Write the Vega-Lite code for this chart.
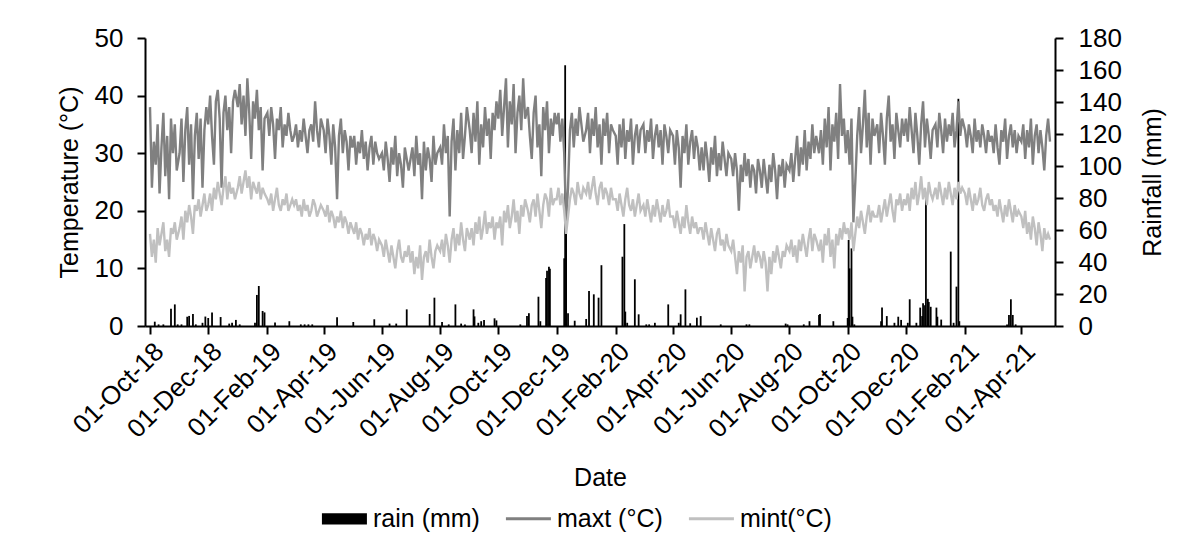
{
"$schema":"https://vega.github.io/schema/vega-lite/v6.json",
"width":910,"height":288,
"autosize":{"type":"none"},
"padding":{"left":145,"top":38,"right":129,"bottom":230},
"background":"white",
"config":{"view":{"stroke":null},"font":"Liberation Sans",
 "axis":{"labelFont":"Liberation Sans","titleFont":"Liberation Sans","labelColor":"#000","titleColor":"#000","labelFontSize":26,"titleFontSize":25,"titleFontWeight":"normal","domainColor":"#000","tickColor":"#000","domainWidth":2,"tickWidth":2,"tickSize":8,"grid":false},
 "legend":{"labelFont":"Liberation Sans","labelFontSize":25,"labelColor":"#000"}},
"datasets":{
"t":[
{"d":"2018-10-01","x":38,"n":16},{"d":"2018-10-03","x":24,"n":12},{"d":"2018-10-05","x":32,"n":15},{"d":"2018-10-07","x":28,"n":11},{"d":"2018-10-09","x":35,"n":17},{"d":"2018-10-11","x":23,"n":14},{"d":"2018-10-13","x":31,"n":16},{"d":"2018-10-15","x":37,"n":18},{"d":"2018-10-17","x":26,"n":13},{"d":"2018-10-19","x":33,"n":15},{"d":"2018-10-21","x":22,"n":12},{"d":"2018-10-23","x":36,"n":17},{"d":"2018-10-25","x":30,"n":16},{"d":"2018-10-27","x":35,"n":18},{"d":"2018-10-29","x":27,"n":15},
{"d":"2018-11-01","x":30,"n":17},{"d":"2018-11-03","x":36,"n":19},{"d":"2018-11-05","x":25,"n":15},{"d":"2018-11-07","x":34,"n":20},{"d":"2018-11-09","x":38,"n":18},{"d":"2018-11-11","x":28,"n":21},{"d":"2018-11-13","x":35,"n":19},{"d":"2018-11-15","x":22,"n":16},{"d":"2018-11-17","x":33,"n":21},{"d":"2018-11-19","x":37,"n":20},{"d":"2018-11-21","x":29,"n":22},{"d":"2018-11-23","x":36,"n":19},{"d":"2018-11-25","x":24,"n":21},{"d":"2018-11-27","x":34,"n":23},{"d":"2018-11-29","x":38,"n":20},
{"d":"2018-12-01","x":35,"n":21},{"d":"2018-12-03","x":40,"n":23},{"d":"2018-12-05","x":33,"n":20},{"d":"2018-12-07","x":28,"n":24},{"d":"2018-12-09","x":39,"n":22},{"d":"2018-12-11","x":41,"n":25},{"d":"2018-12-13","x":36,"n":23},{"d":"2018-12-15","x":24,"n":21},{"d":"2018-12-17","x":37,"n":24},{"d":"2018-12-19","x":40,"n":26},{"d":"2018-12-21","x":34,"n":22},{"d":"2018-12-23","x":38,"n":25},{"d":"2018-12-25","x":30,"n":23},{"d":"2018-12-27","x":39,"n":24},{"d":"2018-12-29","x":41,"n":22},
{"d":"2019-01-01","x":38,"n":24},{"d":"2019-01-03","x":42,"n":26},{"d":"2019-01-05","x":35,"n":23},{"d":"2019-01-07","x":40,"n":25},{"d":"2019-01-09","x":33,"n":27},{"d":"2019-01-11","x":43,"n":24},{"d":"2019-01-13","x":37,"n":26},{"d":"2019-01-15","x":29,"n":22},{"d":"2019-01-17","x":39,"n":25},{"d":"2019-01-19","x":36,"n":24},{"d":"2019-01-21","x":41,"n":23},{"d":"2019-01-23","x":34,"n":25},{"d":"2019-01-25","x":38,"n":22},{"d":"2019-01-27","x":27,"n":24},{"d":"2019-01-29","x":36,"n":23},
{"d":"2019-02-01","x":37,"n":22},{"d":"2019-02-03","x":33,"n":21},{"d":"2019-02-05","x":38,"n":23},{"d":"2019-02-07","x":35,"n":20},{"d":"2019-02-09","x":29,"n":22},{"d":"2019-02-11","x":36,"n":24},{"d":"2019-02-13","x":34,"n":21},{"d":"2019-02-15","x":38,"n":20},{"d":"2019-02-17","x":31,"n":22},{"d":"2019-02-19","x":35,"n":21},{"d":"2019-02-21","x":33,"n":23},{"d":"2019-02-23","x":37,"n":20},{"d":"2019-02-25","x":34,"n":21},{"d":"2019-02-27","x":32,"n":22},
{"d":"2019-03-01","x":33,"n":21},{"d":"2019-03-03","x":35,"n":22},{"d":"2019-03-05","x":31,"n":20},{"d":"2019-03-07","x":34,"n":21},{"d":"2019-03-09","x":32,"n":19},{"d":"2019-03-11","x":36,"n":22},{"d":"2019-03-13","x":33,"n":20},{"d":"2019-03-15","x":30,"n":21},{"d":"2019-03-17","x":34,"n":19},{"d":"2019-03-19","x":35,"n":20},{"d":"2019-03-21","x":32,"n":22},{"d":"2019-03-23","x":39,"n":21},{"d":"2019-03-25","x":34,"n":19},{"d":"2019-03-27","x":31,"n":20},{"d":"2019-03-29","x":36,"n":21},
{"d":"2019-04-01","x":34,"n":20},{"d":"2019-04-03","x":30,"n":19},{"d":"2019-04-05","x":36,"n":21},{"d":"2019-04-07","x":33,"n":18},{"d":"2019-04-09","x":28,"n":20},{"d":"2019-04-11","x":35,"n":19},{"d":"2019-04-13","x":31,"n":17},{"d":"2019-04-15","x":22,"n":19},{"d":"2019-04-17","x":33,"n":18},{"d":"2019-04-19","x":36,"n":20},{"d":"2019-04-21","x":30,"n":17},{"d":"2019-04-23","x":34,"n":19},{"d":"2019-04-25","x":32,"n":18},{"d":"2019-04-27","x":27,"n":16},{"d":"2019-04-29","x":33,"n":18},
{"d":"2019-05-01","x":31,"n":17},{"d":"2019-05-03","x":33,"n":16},{"d":"2019-05-05","x":28,"n":18},{"d":"2019-05-07","x":32,"n":15},{"d":"2019-05-09","x":30,"n":17},{"d":"2019-05-11","x":34,"n":16},{"d":"2019-05-13","x":29,"n":14},{"d":"2019-05-15","x":32,"n":16},{"d":"2019-05-17","x":27,"n":15},{"d":"2019-05-19","x":31,"n":17},{"d":"2019-05-21","x":33,"n":14},{"d":"2019-05-23","x":28,"n":16},{"d":"2019-05-25","x":32,"n":15},{"d":"2019-05-27","x":30,"n":13},{"d":"2019-05-29","x":29,"n":15},
{"d":"2019-06-01","x":30,"n":14},{"d":"2019-06-03","x":27,"n":12},{"d":"2019-06-05","x":32,"n":15},{"d":"2019-06-07","x":29,"n":13},{"d":"2019-06-09","x":25,"n":11},{"d":"2019-06-11","x":31,"n":14},{"d":"2019-06-13","x":28,"n":12},{"d":"2019-06-15","x":33,"n":10},{"d":"2019-06-17","x":26,"n":13},{"d":"2019-06-19","x":30,"n":15},{"d":"2019-06-21","x":28,"n":12},{"d":"2019-06-23","x":24,"n":11},{"d":"2019-06-25","x":31,"n":13},{"d":"2019-06-27","x":29,"n":12},{"d":"2019-06-29","x":27,"n":14},
{"d":"2019-07-01","x":29,"n":11},{"d":"2019-07-03","x":31,"n":13},{"d":"2019-07-05","x":26,"n":9},{"d":"2019-07-07","x":33,"n":12},{"d":"2019-07-09","x":28,"n":10},{"d":"2019-07-11","x":30,"n":14},{"d":"2019-07-13","x":22,"n":8},{"d":"2019-07-15","x":32,"n":12},{"d":"2019-07-17","x":27,"n":13},{"d":"2019-07-19","x":31,"n":11},{"d":"2019-07-21","x":29,"n":15},{"d":"2019-07-23","x":25,"n":12},{"d":"2019-07-25","x":33,"n":10},{"d":"2019-07-27","x":28,"n":13},{"d":"2019-07-29","x":30,"n":14},
{"d":"2019-08-01","x":31,"n":13},{"d":"2019-08-03","x":28,"n":15},{"d":"2019-08-05","x":35,"n":12},{"d":"2019-08-07","x":30,"n":16},{"d":"2019-08-09","x":33,"n":14},{"d":"2019-08-11","x":19,"n":11},{"d":"2019-08-13","x":32,"n":15},{"d":"2019-08-15","x":36,"n":17},{"d":"2019-08-17","x":27,"n":13},{"d":"2019-08-19","x":34,"n":16},{"d":"2019-08-21","x":30,"n":14},{"d":"2019-08-23","x":37,"n":18},{"d":"2019-08-25","x":29,"n":15},{"d":"2019-08-27","x":33,"n":13},{"d":"2019-08-29","x":38,"n":17},
{"d":"2019-09-01","x":34,"n":15},{"d":"2019-09-03","x":30,"n":17},{"d":"2019-09-05","x":37,"n":14},{"d":"2019-09-07","x":32,"n":18},{"d":"2019-09-09","x":39,"n":16},{"d":"2019-09-11","x":28,"n":19},{"d":"2019-09-13","x":35,"n":15},{"d":"2019-09-15","x":31,"n":17},{"d":"2019-09-17","x":38,"n":20},{"d":"2019-09-19","x":33,"n":16},{"d":"2019-09-21","x":36,"n":18},{"d":"2019-09-23","x":29,"n":17},{"d":"2019-09-25","x":37,"n":19},{"d":"2019-09-27","x":34,"n":15},{"d":"2019-09-29","x":39,"n":18},
{"d":"2019-10-01","x":36,"n":17},{"d":"2019-10-03","x":41,"n":19},{"d":"2019-10-05","x":33,"n":14},{"d":"2019-10-07","x":38,"n":20},{"d":"2019-10-09","x":43,"n":18},{"d":"2019-10-11","x":31,"n":21},{"d":"2019-10-13","x":39,"n":17},{"d":"2019-10-15","x":35,"n":19},{"d":"2019-10-17","x":42,"n":22},{"d":"2019-10-19","x":30,"n":18},{"d":"2019-10-21","x":37,"n":20},{"d":"2019-10-23","x":40,"n":16},{"d":"2019-10-25","x":34,"n":21},{"d":"2019-10-27","x":43,"n":19},{"d":"2019-10-29","x":36,"n":22},
{"d":"2019-11-01","x":38,"n":20},{"d":"2019-11-03","x":33,"n":18},{"d":"2019-11-05","x":29,"n":21},{"d":"2019-11-07","x":37,"n":22},{"d":"2019-11-09","x":40,"n":19},{"d":"2019-11-11","x":31,"n":23},{"d":"2019-11-13","x":35,"n":20},{"d":"2019-11-15","x":26,"n":17},{"d":"2019-11-17","x":38,"n":21},{"d":"2019-11-19","x":34,"n":23},{"d":"2019-11-21","x":39,"n":22},{"d":"2019-11-23","x":30,"n":19},{"d":"2019-11-25","x":36,"n":24},{"d":"2019-11-27","x":33,"n":21},{"d":"2019-11-29","x":37,"n":22},
{"d":"2019-12-01","x":35,"n":22},{"d":"2019-12-03","x":37,"n":24},{"d":"2019-12-05","x":32,"n":21},{"d":"2019-12-07","x":36,"n":23},{"d":"2019-12-09","x":30,"n":20},{"d":"2019-12-11","x":18,"n":16},{"d":"2019-12-13","x":24,"n":19},{"d":"2019-12-15","x":34,"n":22},{"d":"2019-12-17","x":37,"n":24},{"d":"2019-12-19","x":31,"n":23},{"d":"2019-12-21","x":36,"n":21},{"d":"2019-12-23","x":33,"n":25},{"d":"2019-12-25","x":38,"n":23},{"d":"2019-12-27","x":35,"n":22},{"d":"2019-12-29","x":32,"n":24},
{"d":"2020-01-01","x":34,"n":23},{"d":"2020-01-03","x":37,"n":25},{"d":"2020-01-05","x":30,"n":22},{"d":"2020-01-07","x":36,"n":24},{"d":"2020-01-09","x":33,"n":26},{"d":"2020-01-11","x":38,"n":23},{"d":"2020-01-13","x":31,"n":21},{"d":"2020-01-15","x":35,"n":24},{"d":"2020-01-17","x":28,"n":25},{"d":"2020-01-19","x":36,"n":22},{"d":"2020-01-21","x":33,"n":24},{"d":"2020-01-23","x":37,"n":23},{"d":"2020-01-25","x":30,"n":21},{"d":"2020-01-27","x":35,"n":24},{"d":"2020-01-29","x":34,"n":22},
{"d":"2020-02-01","x":33,"n":22},{"d":"2020-02-03","x":28,"n":20},{"d":"2020-02-05","x":35,"n":23},{"d":"2020-02-07","x":31,"n":21},{"d":"2020-02-09","x":36,"n":19},{"d":"2020-02-11","x":29,"n":22},{"d":"2020-02-13","x":34,"n":24},{"d":"2020-02-15","x":32,"n":21},{"d":"2020-02-17","x":36,"n":20},{"d":"2020-02-19","x":28,"n":22},{"d":"2020-02-21","x":33,"n":19},{"d":"2020-02-23","x":35,"n":21},{"d":"2020-02-25","x":30,"n":23},{"d":"2020-02-27","x":34,"n":20},
{"d":"2020-03-01","x":35,"n":21},{"d":"2020-03-03","x":30,"n":19},{"d":"2020-03-05","x":34,"n":22},{"d":"2020-03-07","x":32,"n":20},{"d":"2020-03-09","x":36,"n":18},{"d":"2020-03-11","x":29,"n":21},{"d":"2020-03-13","x":33,"n":19},{"d":"2020-03-15","x":35,"n":22},{"d":"2020-03-17","x":31,"n":20},{"d":"2020-03-19","x":34,"n":18},{"d":"2020-03-21","x":28,"n":21},{"d":"2020-03-23","x":35,"n":19},{"d":"2020-03-25","x":33,"n":20},{"d":"2020-03-27","x":30,"n":22},{"d":"2020-03-29","x":34,"n":19},
{"d":"2020-04-01","x":33,"n":19},{"d":"2020-04-03","x":28,"n":17},{"d":"2020-04-05","x":34,"n":20},{"d":"2020-04-07","x":31,"n":18},{"d":"2020-04-09","x":24,"n":16},{"d":"2020-04-11","x":33,"n":19},{"d":"2020-04-13","x":30,"n":17},{"d":"2020-04-15","x":35,"n":21},{"d":"2020-04-17","x":28,"n":18},{"d":"2020-04-19","x":32,"n":16},{"d":"2020-04-21","x":34,"n":19},{"d":"2020-04-23","x":29,"n":17},{"d":"2020-04-25","x":33,"n":18},{"d":"2020-04-27","x":31,"n":16},{"d":"2020-04-29","x":27,"n":17},
{"d":"2020-05-01","x":31,"n":17},{"d":"2020-05-03","x":27,"n":15},{"d":"2020-05-05","x":32,"n":18},{"d":"2020-05-07","x":29,"n":16},{"d":"2020-05-09","x":25,"n":14},{"d":"2020-05-11","x":31,"n":17},{"d":"2020-05-13","x":28,"n":15},{"d":"2020-05-15","x":33,"n":13},{"d":"2020-05-17","x":26,"n":16},{"d":"2020-05-19","x":30,"n":17},{"d":"2020-05-21","x":27,"n":14},{"d":"2020-05-23","x":32,"n":15},{"d":"2020-05-25","x":29,"n":13},{"d":"2020-05-27","x":26,"n":16},{"d":"2020-05-29","x":30,"n":14},
{"d":"2020-06-01","x":29,"n":13},{"d":"2020-06-03","x":26,"n":15},{"d":"2020-06-05","x":30,"n":12},{"d":"2020-06-07","x":27,"n":9},{"d":"2020-06-09","x":20,"n":13},{"d":"2020-06-11","x":28,"n":11},{"d":"2020-06-13","x":25,"n":14},{"d":"2020-06-15","x":30,"n":6},{"d":"2020-06-17","x":26,"n":12},{"d":"2020-06-19","x":29,"n":13},{"d":"2020-06-21","x":24,"n":10},{"d":"2020-06-23","x":28,"n":12},{"d":"2020-06-25","x":27,"n":14},{"d":"2020-06-27","x":23,"n":11},{"d":"2020-06-29","x":29,"n":13},
{"d":"2020-07-01","x":27,"n":12},{"d":"2020-07-03","x":24,"n":10},{"d":"2020-07-05","x":29,"n":13},{"d":"2020-07-07","x":26,"n":11},{"d":"2020-07-09","x":23,"n":6},{"d":"2020-07-11","x":28,"n":12},{"d":"2020-07-13","x":25,"n":9},{"d":"2020-07-15","x":30,"n":13},{"d":"2020-07-17","x":27,"n":11},{"d":"2020-07-19","x":22,"n":14},{"d":"2020-07-21","x":28,"n":12},{"d":"2020-07-23","x":26,"n":10},{"d":"2020-07-25","x":29,"n":13},{"d":"2020-07-27","x":24,"n":12},{"d":"2020-07-29","x":28,"n":14},
{"d":"2020-08-01","x":27,"n":13},{"d":"2020-08-03","x":30,"n":15},{"d":"2020-08-05","x":25,"n":12},{"d":"2020-08-07","x":29,"n":14},{"d":"2020-08-09","x":33,"n":11},{"d":"2020-08-11","x":26,"n":15},{"d":"2020-08-13","x":31,"n":13},{"d":"2020-08-15","x":28,"n":16},{"d":"2020-08-17","x":34,"n":14},{"d":"2020-08-19","x":27,"n":12},{"d":"2020-08-21","x":32,"n":15},{"d":"2020-08-23","x":29,"n":17},{"d":"2020-08-25","x":35,"n":13},{"d":"2020-08-27","x":30,"n":16},{"d":"2020-08-29","x":33,"n":15},
{"d":"2020-09-01","x":30,"n":13},{"d":"2020-09-03","x":34,"n":15},{"d":"2020-09-05","x":28,"n":11},{"d":"2020-09-07","x":36,"n":16},{"d":"2020-09-09","x":31,"n":14},{"d":"2020-09-11","x":38,"n":17},{"d":"2020-09-13","x":27,"n":12},{"d":"2020-09-15","x":35,"n":15},{"d":"2020-09-17","x":32,"n":10},{"d":"2020-09-19","x":37,"n":16},{"d":"2020-09-21","x":29,"n":14},{"d":"2020-09-23","x":42,"n":17},{"d":"2020-09-25","x":33,"n":15},{"d":"2020-09-27","x":36,"n":18},{"d":"2020-09-29","x":30,"n":16},
{"d":"2020-10-01","x":34,"n":17},{"d":"2020-10-03","x":28,"n":15},{"d":"2020-10-05","x":36,"n":18},{"d":"2020-10-07","x":18,"n":13},{"d":"2020-10-09","x":25,"n":16},{"d":"2020-10-11","x":33,"n":19},{"d":"2020-10-13","x":38,"n":17},{"d":"2020-10-15","x":30,"n":20},{"d":"2020-10-17","x":35,"n":18},{"d":"2020-10-19","x":41,"n":16},{"d":"2020-10-21","x":31,"n":19},{"d":"2020-10-23","x":37,"n":21},{"d":"2020-10-25","x":28,"n":18},{"d":"2020-10-27","x":36,"n":20},{"d":"2020-10-29","x":33,"n":19},
{"d":"2020-11-01","x":35,"n":19},{"d":"2020-11-03","x":30,"n":21},{"d":"2020-11-05","x":37,"n":18},{"d":"2020-11-07","x":33,"n":20},{"d":"2020-11-09","x":28,"n":22},{"d":"2020-11-11","x":36,"n":19},{"d":"2020-11-13","x":40,"n":21},{"d":"2020-11-15","x":32,"n":23},{"d":"2020-11-17","x":35,"n":20},{"d":"2020-11-19","x":29,"n":18},{"d":"2020-11-21","x":37,"n":22},{"d":"2020-11-23","x":34,"n":21},{"d":"2020-11-25","x":31,"n":23},{"d":"2020-11-27","x":36,"n":20},{"d":"2020-11-29","x":33,"n":22},
{"d":"2020-12-01","x":36,"n":21},{"d":"2020-12-03","x":32,"n":23},{"d":"2020-12-05","x":38,"n":20},{"d":"2020-12-07","x":34,"n":24},{"d":"2020-12-09","x":30,"n":22},{"d":"2020-12-11","x":37,"n":25},{"d":"2020-12-13","x":33,"n":21},{"d":"2020-12-15","x":28,"n":23},{"d":"2020-12-17","x":35,"n":26},{"d":"2020-12-19","x":39,"n":22},{"d":"2020-12-21","x":31,"n":24},{"d":"2020-12-23","x":36,"n":21},{"d":"2020-12-25","x":33,"n":25},{"d":"2020-12-27","x":29,"n":23},{"d":"2020-12-29","x":34,"n":22},
{"d":"2021-01-01","x":35,"n":24},{"d":"2021-01-03","x":31,"n":22},{"d":"2021-01-05","x":37,"n":25},{"d":"2021-01-07","x":34,"n":23},{"d":"2021-01-09","x":30,"n":21},{"d":"2021-01-11","x":36,"n":24},{"d":"2021-01-13","x":32,"n":22},{"d":"2021-01-15","x":35,"n":25},{"d":"2021-01-17","x":33,"n":23},{"d":"2021-01-19","x":37,"n":21},{"d":"2021-01-21","x":31,"n":24},{"d":"2021-01-23","x":34,"n":22},{"d":"2021-01-25","x":39,"n":25},{"d":"2021-01-27","x":33,"n":23},{"d":"2021-01-29","x":36,"n":24},
{"d":"2021-02-01","x":34,"n":23},{"d":"2021-02-03","x":31,"n":21},{"d":"2021-02-05","x":35,"n":24},{"d":"2021-02-07","x":33,"n":22},{"d":"2021-02-09","x":30,"n":20},{"d":"2021-02-11","x":36,"n":23},{"d":"2021-02-13","x":32,"n":21},{"d":"2021-02-15","x":34,"n":22},{"d":"2021-02-17","x":31,"n":24},{"d":"2021-02-19","x":35,"n":21},{"d":"2021-02-21","x":33,"n":20},{"d":"2021-02-23","x":30,"n":22},{"d":"2021-02-25","x":34,"n":23},{"d":"2021-02-27","x":32,"n":21},
{"d":"2021-03-01","x":33,"n":22},{"d":"2021-03-03","x":30,"n":20},{"d":"2021-03-05","x":35,"n":21},{"d":"2021-03-07","x":31,"n":19},{"d":"2021-03-09","x":28,"n":22},{"d":"2021-03-11","x":34,"n":20},{"d":"2021-03-13","x":32,"n":18},{"d":"2021-03-15","x":36,"n":21},{"d":"2021-03-17","x":29,"n":19},{"d":"2021-03-19","x":33,"n":22},{"d":"2021-03-21","x":35,"n":20},{"d":"2021-03-23","x":31,"n":18},{"d":"2021-03-25","x":34,"n":21},{"d":"2021-03-27","x":30,"n":19},{"d":"2021-03-29","x":33,"n":20},
{"d":"2021-04-01","x":32,"n":19},{"d":"2021-04-03","x":35,"n":17},{"d":"2021-04-05","x":29,"n":20},{"d":"2021-04-07","x":34,"n":16},{"d":"2021-04-09","x":31,"n":18},{"d":"2021-04-11","x":36,"n":15},{"d":"2021-04-13","x":28,"n":19},{"d":"2021-04-15","x":33,"n":17},{"d":"2021-04-17","x":35,"n":14},{"d":"2021-04-19","x":30,"n":18},{"d":"2021-04-21","x":34,"n":16},{"d":"2021-04-23","x":31,"n":13},{"d":"2021-04-25","x":27,"n":17},{"d":"2021-04-27","x":33,"n":15},{"d":"2021-04-29","x":36,"n":16},
{"d":"2021-05-01","x":32,"n":15}
],
"r":[
{"d":"2018-10-06","v":2.7},{"d":"2018-10-10","v":1},{"d":"2018-10-15","v":1},{"d":"2018-10-23","v":10.8},{"d":"2018-10-27","v":13.5},{"d":"2018-10-30","v":1},{"d":"2018-11-03","v":1},{"d":"2018-11-09","v":5.8},{"d":"2018-11-11","v":6.3},{"d":"2018-11-15","v":7.5},{"d":"2018-11-18","v":1},{"d":"2018-11-25","v":2},{"d":"2018-11-28","v":5.9},{"d":"2018-12-01","v":5},{"d":"2018-12-05","v":8.5},{"d":"2018-12-14","v":5.6},{"d":"2018-12-23","v":1.5},{"d":"2018-12-26","v":2},{"d":"2018-12-30","v":3.8},
{"d":"2019-01-03","v":1},{"d":"2019-01-19","v":2},{"d":"2019-01-21","v":19.4},{"d":"2019-01-23","v":25},{"d":"2019-01-27","v":9.4},{"d":"2019-01-29","v":8.5},{"d":"2019-02-09","v":2.2},{"d":"2019-02-24","v":3},{"d":"2019-03-08","v":1},{"d":"2019-03-12","v":1},{"d":"2019-03-16","v":1},{"d":"2019-03-20","v":1},{"d":"2019-04-15","v":5.4},{"d":"2019-05-02","v":2.5},{"d":"2019-05-24","v":4.2},{"d":"2019-06-09","v":1.5},{"d":"2019-06-16","v":1.5},{"d":"2019-06-27","v":10.4},{"d":"2019-07-21","v":7.5},{"d":"2019-07-26","v":17.7},{"d":"2019-08-03","v":2.5},{"d":"2019-08-10","v":1},{"d":"2019-08-17","v":13.5},{"d":"2019-08-23","v":1.5},{"d":"2019-08-27","v":1},{"d":"2019-09-05","v":10.4},{"d":"2019-09-06","v":6},{"d":"2019-09-10","v":2},{"d":"2019-09-13","v":3},{"d":"2019-09-16","v":3.8},{"d":"2019-09-27","v":4.8},{"d":"2019-09-29","v":3.5},
{"d":"2019-10-24","v":1},{"d":"2019-10-31","v":6.2},{"d":"2019-11-02","v":8},{"d":"2019-11-12","v":18.3},{"d":"2019-11-14","v":3},{"d":"2019-11-20","v":30},{"d":"2019-11-21","v":34.6},{"d":"2019-11-23","v":37},{"d":"2019-11-24","v":35.8},{"d":"2019-12-09","v":42.3},{"d":"2019-12-10","v":163},{"d":"2019-12-11","v":61},{"d":"2019-12-13","v":8},{"d":"2019-12-20","v":3.3},
{"d":"2020-01-01","v":4.4},{"d":"2020-01-04","v":21.9},{"d":"2020-01-09","v":19.8},{"d":"2020-01-14","v":17.7},{"d":"2020-01-17","v":38},{"d":"2020-02-08","v":43.3},{"d":"2020-02-10","v":63.7},{"d":"2020-02-11","v":9},{"d":"2020-02-13","v":2},{"d":"2020-02-21","v":29.2},{"d":"2020-02-25","v":7.3},{"d":"2020-03-04","v":1},{"d":"2020-03-07","v":1},{"d":"2020-03-13","v":2},{"d":"2020-03-27","v":13.5},{"d":"2020-04-07","v":2},{"d":"2020-04-09","v":7.3},{"d":"2020-04-14","v":22.9},{"d":"2020-04-19","v":1.7},{"d":"2020-04-26","v":5.2},{"d":"2020-04-30","v":6.2},{"d":"2020-05-21","v":1},{"d":"2020-06-17","v":1},{"d":"2020-06-20","v":1},{"d":"2020-07-28","v":1.5},{"d":"2020-07-30","v":1},{"d":"2020-08-16","v":1},{"d":"2020-08-22","v":3},{"d":"2020-09-01","v":6.9},{"d":"2020-09-02","v":7.5},{"d":"2020-09-16","v":3},
{"d":"2020-10-01","v":5},{"d":"2020-10-02","v":53.8},{"d":"2020-10-03","v":36},{"d":"2020-10-05","v":48.5},{"d":"2020-10-06","v":5.8},{"d":"2020-10-08","v":1},{"d":"2020-11-05","v":3},{"d":"2020-11-06","v":11.5},{"d":"2020-11-11","v":6.2},{"d":"2020-11-19","v":2},{"d":"2020-11-23","v":5.8},{"d":"2020-11-26","v":3.8},{"d":"2020-12-03","v":2},{"d":"2020-12-05","v":16.7},{"d":"2020-12-12","v":2},{"d":"2020-12-16","v":11.5},{"d":"2020-12-18","v":6.2},{"d":"2020-12-19","v":14.2},{"d":"2020-12-21","v":13},{"d":"2020-12-22","v":82},{"d":"2020-12-24","v":17},{"d":"2020-12-25","v":15},{"d":"2020-12-27","v":12},
{"d":"2021-01-02","v":11.5},{"d":"2021-01-03","v":5.8},{"d":"2021-01-07","v":4},{"d":"2021-01-17","v":46.5},{"d":"2021-01-20","v":2},{"d":"2021-01-23","v":24.6},{"d":"2021-01-25","v":142},{"d":"2021-01-26","v":3},{"d":"2021-03-17","v":1},{"d":"2021-03-19","v":6.9},{"d":"2021-03-21","v":16.7},{"d":"2021-03-23","v":6.9},{"d":"2021-03-26","v":1}
]},
"encoding":{
 "x":{"field":"d","type":"temporal",
  "scale":{"type":"utc","domain":[1538352000000,1619827200000]},
  "axis":{"title":"Date","labelExpr":"utcFormat(datum.value, '%d-%b-%y')","labelAngle":-45,"labelOverlap":false,"labelBound":false,"labelPadding":4,"titlePadding":23,
   "values":[1538352000000,1543622400000,1548979200000,1554076800000,1559347200000,1564617600000,1569888000000,1575158400000,1580515200000,1585699200000,1590969600000,1596240000000,1601510400000,1606780800000,1612137600000,1617235200000]}}
},
"layer":[
 {"data":{"name":"r"},
  "mark":{"type":"bar","size":1.8},
  "encoding":{
   "y":{"field":"v","type":"quantitative","scale":{"domain":[0,180],"nice":false},
    "axis":{"orient":"right","title":"Rainfall  (mm)","titleAngle":270,"values":[0,20,40,60,80,100,120,140,160,180],"labelPadding":15,"titlePadding":44}},
   "color":{"datum":"r","type":"nominal",
    "scale":{"domain":["r","x","n"],"range":["#000000","#808080","#c0c0c0"]},
    "legend":{"orient":"none","legendX":193,"legendY":468,"direction":"horizontal","title":null,"symbolSize":2025,"labelOffset":10,"columnPadding":19,
     "labelExpr":"datum.value == 'r' ? 'rain (mm)' : datum.value == 'x' ? 'maxt (°C)' : 'mint(°C)'",
     "encode":{"symbols":{"update":{
       "shape":{"signal":"datum.value == 'r' ? 'M-1.27,-0.25H0.73V0.25H-1.27Z' : 'M-1.27,0H0.73'"},
       "fill":{"signal":"datum.value == 'r' ? '#000000' : 'transparent'"},
       "stroke":{"signal":"datum.value == 'r' ? '#000000' : datum.value == 'x' ? '#808080' : '#c0c0c0'"},
       "strokeWidth":{"signal":"datum.value == 'r' ? 0 : 3"},
       "opacity":{"value":1}}}}}}
  }},
 {"data":{"name":"t"},
  "transform":[{"fold":["x","n"]}],
  "mark":{"type":"line","strokeWidth":2.4},
  "encoding":{
   "y":{"field":"value","type":"quantitative","scale":{"domain":[0,50],"nice":false},
    "axis":{"orient":"left","title":"Temperature  (°C)","values":[0,10,20,30,40,50],"labelPadding":14,"titlePadding":12}},
   "color":{"field":"key","type":"nominal",
    "legend":{"orient":"none","legendX":193,"legendY":468,"direction":"horizontal","title":null,"symbolSize":2025,"labelOffset":10,"columnPadding":19,
     "labelExpr":"datum.value == 'r' ? 'rain (mm)' : datum.value == 'x' ? 'maxt (°C)' : 'mint(°C)'",
     "encode":{"symbols":{"update":{
       "shape":{"signal":"datum.value == 'r' ? 'M-1.27,-0.25H0.73V0.25H-1.27Z' : 'M-1.27,0H0.73'"},
       "fill":{"signal":"datum.value == 'r' ? '#000000' : 'transparent'"},
       "stroke":{"signal":"datum.value == 'r' ? '#000000' : datum.value == 'x' ? '#808080' : '#c0c0c0'"},
       "strokeWidth":{"signal":"datum.value == 'r' ? 0 : 3"},
       "opacity":{"value":1}}}}}}
  }}
],
"resolve":{"scale":{"y":"independent"}}
}
